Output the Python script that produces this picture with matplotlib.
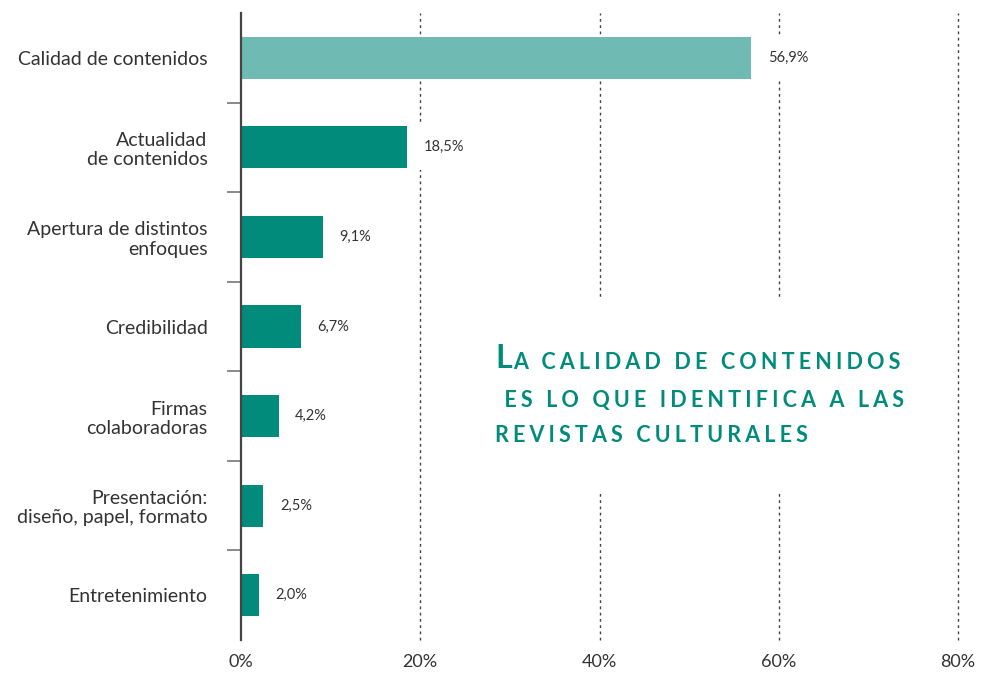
import matplotlib
matplotlib.use("Agg")
import matplotlib.pyplot as plt
from matplotlib.patches import Rectangle

categories = ["Calidad de contenidos", "Actualidad\nde contenidos", "Apertura de distintos\nenfoques",
              "Credibilidad", "Firmas\ncolaboradoras", "Presentación:\ndiseño, papel, formato",
              "Entretenimiento"]
values = [56.9, 18.5, 9.1, 6.7, 4.2, 2.5, 2.0]
value_labels = ["56,9%", "18,5%", "9,1%", "6,7%", "4,2%", "2,5%", "2,0%"]
xticks = [0, 20, 40, 60, 80]
xtick_labels = ["0%", "20%", "40%", "60%", "80%"]
title_lines = ["a calidad de contenidos", " es lo que identifica a las", "revistas culturales"]

FONT = "Lato"
DARK = "#008b7b"
LIGHT = "#6fbbb4"
TXT = "#333333"

fig = plt.figure(figsize=(9.83, 6.73), dpi=100)
ax = fig.add_axes([241/983, 1-640/673, 717/983, 627/673])

ypos = list(range(len(categories)))
colors = [LIGHT] + [DARK]*(len(categories)-1)
ax.barh(ypos, values, height=0.47, color=colors, zorder=3)
ax.set_ylim(len(categories)-0.5, -0.5)
ax.set_xlim(0, 80)

# gridlines
for xv in xticks[1:]:
    ax.axvline(xv, color="#444444", lw=1.0, ls=(0, (2, 2.5)), zorder=1, clip_on=False)

# white box behind the title
ax.add_patch(Rectangle((0.32, 0.236), 0.64, 0.31, transform=ax.transAxes,
                       facecolor="white", edgecolor="none", zorder=2))

# value labels
for y, v, lab in zip(ypos, values, value_labels):
    ax.annotate(lab, xy=(v, y), xytext=(12, 0), textcoords="offset points",
                va="center", ha="left", fontsize=10.5, color=TXT, family=FONT,
                bbox=dict(facecolor="white", edgecolor="none", pad=11), zorder=2.5)

# axes styling
for s in ["top", "right", "bottom"]:
    ax.spines[s].set_visible(False)
ax.spines["left"].set_color("#444444")
ax.spines["left"].set_linewidth(1.6)
ax.spines["left"].set_zorder(5)

ax.set_yticks([i + 0.5 for i in range(len(categories)-1)])
ax.set_yticklabels([])
ax.tick_params(axis="y", which="major", length=10, width=1.2, color="#777777")
ax.set_yticks(ypos, minor=True)
ax.set_yticklabels(categories, minor=True, fontsize=14, color=TXT, family=FONT,
                   ha="right", multialignment="right", linespacing=1.15)
ax.tick_params(axis="y", which="minor", length=0, pad=24)

ax.set_xticks(xticks)
ax.set_xticklabels(xtick_labels, fontsize=13, color=TXT, family=FONT)
ax.tick_params(axis="x", length=0, pad=10)

# title in small caps
def spaced(s):
    return "\u2009\u200a".join(s.upper())

L = ax.text(495/983, 1-368/673, "L", transform=fig.transFigure, fontsize=23,
            color=DARK, family=FONT, weight="bold", va="baseline", ha="left", zorder=6)
ax.annotate(spaced(title_lines[0]), xy=(1, 0), xycoords=L, xytext=(1, 0),
            textcoords="offset points", fontsize=15.5, color=DARK, family=FONT,
            weight="bold", va="bottom", ha="left", zorder=6)
ax.text(495/983, 1-407/673, spaced(title_lines[1]), transform=fig.transFigure, fontsize=15.5,
        color=DARK, family=FONT, weight="bold", va="baseline", ha="left", zorder=6)
ax.text(495/983, 1-442/673, spaced(title_lines[2]), transform=fig.transFigure, fontsize=15.5,
        color=DARK, family=FONT, weight="bold", va="baseline", ha="left", zorder=6)

fig.savefig("out.png", dpi=100, facecolor="white")
